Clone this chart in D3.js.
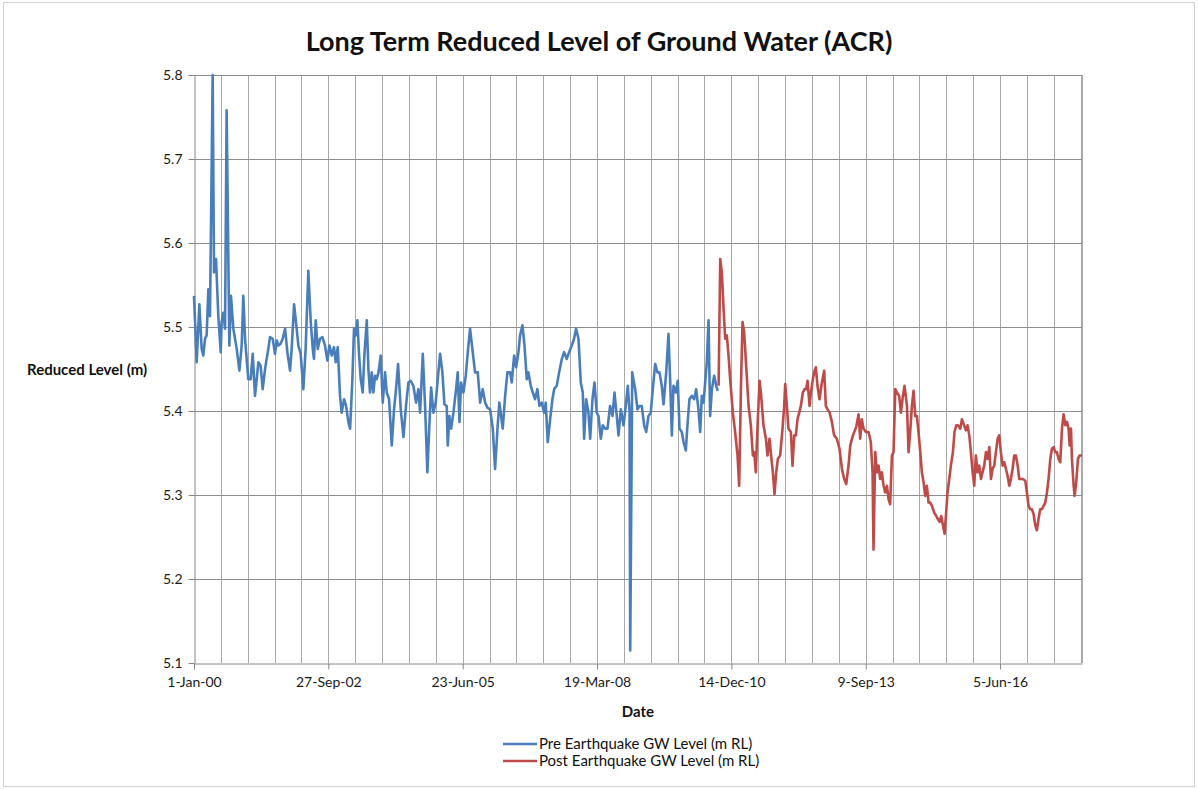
<!DOCTYPE html>
<html>
<head>
<meta charset="utf-8">
<script src="https://cdn.jsdelivr.net/npm/d3@7"></script>
<style>
  html, body { margin: 0; padding: 0; background: #ffffff; }
  svg { display: block; }
  text { font-family: Lato, "Liberation Sans", sans-serif; }
</style>
</head>
<body>
<svg id="chart" width="1198" height="789"></svg>
<script>
// ---------------- DATA ----------------
const chartTitle = "Long Term Reduced Level of Ground Water (ACR)";
const yAxisTitle = "Reduced Level (m)";
const xAxisTitle = "Date";
const seriesNames = ["Pre Earthquake GW Level (m RL)", "Post Earthquake GW Level (m RL)"];
const originDate = "2000-01-01";            // day 0 of the data below
const majorUnitDays = 1000;                 // x tick label interval
const minorUnitDays = 200;                  // x gridline interval
const yTicks = [5.1, 5.2, 5.3, 5.4, 5.5, 5.6, 5.7, 5.8];

// [days since 1-Jan-2000, reduced level (m)]
const preEarthquake = [
[0,5.537],[20,5.458],[40,5.527],[57,5.474],[69,5.466],[82,5.486],[94,5.490],[107,5.545],[119,5.513],[139,5.800],
[149,5.565],[164,5.581],[181,5.513],[199,5.470],[206,5.506],[218,5.517],[231,5.498],[243,5.758],[263,5.478],[275,5.537],
[293,5.498],[318,5.474],[338,5.448],[355,5.478],[367,5.537],[380,5.486],[404,5.438],[422,5.438],[437,5.468],[454,5.418],
[467,5.438],[479,5.458],[496,5.454],[511,5.426],[529,5.450],[553,5.474],[566,5.488],[586,5.486],[603,5.468],[616,5.484],
[628,5.478],[645,5.480],[660,5.486],[678,5.498],[695,5.470],[715,5.448],[727,5.474],[745,5.527],[759,5.506],[777,5.478],
[794,5.468],[814,5.426],[831,5.474],[851,5.567],[869,5.506],[884,5.474],[893,5.462],[906,5.508],[921,5.474],[938,5.486],
[956,5.488],[975,5.478],[993,5.460],[1008,5.478],[1025,5.466],[1042,5.476],[1055,5.458],[1070,5.476],[1087,5.418],[1099,5.398],
[1117,5.414],[1132,5.406],[1149,5.387],[1162,5.379],[1179,5.438],[1191,5.498],[1204,5.490],[1216,5.508],[1229,5.466],[1241,5.438],
[1256,5.422],[1268,5.466],[1286,5.508],[1298,5.450],[1310,5.422],[1323,5.446],[1335,5.422],[1348,5.442],[1360,5.438],[1373,5.446],
[1390,5.466],[1405,5.410],[1422,5.446],[1435,5.422],[1452,5.414],[1472,5.359],[1489,5.402],[1504,5.426],[1519,5.456],[1539,5.402],
[1559,5.369],[1578,5.406],[1596,5.434],[1613,5.436],[1633,5.430],[1653,5.410],[1670,5.426],[1683,5.398],[1703,5.468],[1720,5.406],
[1737,5.327],[1752,5.383],[1765,5.428],[1782,5.398],[1799,5.410],[1819,5.446],[1832,5.468],[1849,5.446],[1864,5.408],[1881,5.406],
[1889,5.359],[1901,5.394],[1914,5.379],[1931,5.398],[1951,5.426],[1963,5.446],[1976,5.387],[1988,5.434],[2005,5.422],[2023,5.442],
[2038,5.470],[2055,5.498],[2072,5.474],[2092,5.446],[2112,5.446],[2130,5.410],[2149,5.426],[2167,5.410],[2184,5.404],[2204,5.402],
[2224,5.379],[2241,5.331],[2259,5.379],[2273,5.410],[2298,5.379],[2316,5.418],[2333,5.446],[2353,5.446],[2365,5.434],[2383,5.466],
[2398,5.452],[2415,5.470],[2427,5.490],[2445,5.502],[2460,5.478],[2477,5.438],[2489,5.446],[2507,5.430],[2522,5.422],[2539,5.414],
[2556,5.426],[2571,5.406],[2589,5.410],[2606,5.398],[2618,5.410],[2633,5.363],[2651,5.390],[2668,5.414],[2681,5.426],[2700,5.430],
[2718,5.446],[2738,5.462],[2755,5.470],[2775,5.462],[2792,5.470],[2812,5.478],[2829,5.486],[2844,5.498],[2862,5.486],[2879,5.434],
[2894,5.422],[2904,5.367],[2919,5.414],[2936,5.398],[2949,5.367],[2966,5.414],[2981,5.434],[2998,5.398],[3011,5.394],[3028,5.367],
[3043,5.383],[3060,5.379],[3078,5.379],[3097,5.406],[3115,5.394],[3130,5.422],[3147,5.394],[3160,5.371],[3177,5.402],[3197,5.383],
[3214,5.406],[3229,5.430],[3242,5.400],[3247,5.115],[3262,5.446],[3284,5.426],[3301,5.402],[3316,5.406],[3333,5.406],[3351,5.383],
[3366,5.375],[3383,5.394],[3400,5.398],[3415,5.426],[3433,5.456],[3450,5.446],[3465,5.446],[3482,5.430],[3495,5.408],[3515,5.446],
[3532,5.492],[3544,5.438],[3557,5.371],[3569,5.430],[3587,5.422],[3601,5.436],[3614,5.379],[3631,5.375],[3644,5.363],[3661,5.353],
[3673,5.383],[3688,5.414],[3706,5.418],[3723,5.414],[3738,5.426],[3755,5.402],[3768,5.375],[3780,5.418],[3793,5.410],[3805,5.434],
[3817,5.458],[3830,5.508],[3842,5.394],[3855,5.426],[3872,5.442],[3887,5.430],[3899,5.424]
];

const postEarthquake = [
[3905,5.430],[3917,5.581],[3929,5.565],[3941,5.525],[3954,5.486],[3966,5.490],[3979,5.466],[3991,5.438],[4011,5.398],[4028,5.375],
[4046,5.347],[4058,5.311],[4071,5.426],[4083,5.506],[4095,5.494],[4110,5.454],[4128,5.406],[4145,5.383],[4160,5.347],[4170,5.351],
[4182,5.327],[4195,5.383],[4210,5.436],[4222,5.418],[4239,5.383],[4257,5.367],[4269,5.347],[4284,5.367],[4296,5.347],[4309,5.327],
[4321,5.301],[4334,5.327],[4346,5.343],[4363,5.347],[4381,5.379],[4393,5.406],[4401,5.432],[4413,5.406],[4425,5.379],[4443,5.375],
[4455,5.335],[4468,5.371],[4480,5.371],[4492,5.390],[4505,5.398],[4517,5.406],[4532,5.422],[4545,5.426],[4557,5.426],[4567,5.436],
[4582,5.406],[4592,5.422],[4607,5.438],[4619,5.448],[4629,5.452],[4641,5.430],[4656,5.414],[4674,5.434],[4691,5.448],[4703,5.406],
[4716,5.402],[4731,5.398],[4748,5.387],[4765,5.371],[4785,5.367],[4805,5.355],[4823,5.331],[4840,5.319],[4855,5.313],[4872,5.335],
[4885,5.359],[4905,5.371],[4929,5.381],[4947,5.396],[4959,5.367],[4971,5.390],[4984,5.379],[5001,5.375],[5021,5.375],[5038,5.363],
[5051,5.327],[5058,5.235],[5071,5.351],[5083,5.327],[5096,5.335],[5108,5.319],[5120,5.327],[5133,5.311],[5145,5.303],[5158,5.311],
[5170,5.295],[5182,5.289],[5195,5.347],[5207,5.351],[5220,5.426],[5232,5.422],[5249,5.418],[5262,5.398],[5277,5.418],[5289,5.430],
[5307,5.406],[5319,5.351],[5331,5.375],[5344,5.406],[5356,5.424],[5369,5.394],[5381,5.394],[5393,5.375],[5406,5.351],[5418,5.327],
[5431,5.315],[5443,5.299],[5455,5.311],[5468,5.291],[5480,5.291],[5493,5.287],[5510,5.279],[5525,5.275],[5535,5.272],[5550,5.268],
[5562,5.275],[5575,5.264],[5587,5.254],[5597,5.275],[5609,5.303],[5622,5.319],[5634,5.335],[5649,5.351],[5661,5.375],[5674,5.383],
[5686,5.383],[5704,5.379],[5716,5.390],[5728,5.385],[5746,5.377],[5758,5.383],[5771,5.371],[5783,5.351],[5796,5.327],[5808,5.311],
[5820,5.347],[5833,5.327],[5845,5.335],[5858,5.319],[5870,5.327],[5882,5.335],[5895,5.351],[5907,5.343],[5920,5.357],[5932,5.319],
[5944,5.331],[5957,5.335],[5969,5.351],[5982,5.367],[5994,5.371],[6006,5.351],[6019,5.335],[6031,5.339],[6044,5.331],[6056,5.323],
[6069,5.311],[6081,5.319],[6093,5.331],[6106,5.347],[6118,5.347],[6131,5.335],[6143,5.319],[6155,5.319],[6170,5.319],[6188,5.317],
[6200,5.303],[6212,5.287],[6225,5.283],[6237,5.283],[6250,5.277],[6262,5.264],[6274,5.258],[6287,5.272],[6299,5.283],[6312,5.283],
[6324,5.287],[6337,5.291],[6349,5.303],[6361,5.319],[6374,5.343],[6386,5.355],[6399,5.357],[6411,5.351],[6423,5.351],[6436,5.343],
[6448,5.339],[6461,5.379],[6473,5.396],[6486,5.383],[6498,5.387],[6510,5.379],[6518,5.359],[6528,5.379],[6535,5.343],[6548,5.311],
[6555,5.299],[6567,5.315],[6580,5.343],[6592,5.347],[6610,5.347]
];

const seriesColors = ["#4a7ebb", "#be4b48"];

// ---------------- LAYOUT ----------------
const W = 1198, H = 789;
const plot = { left: 194, right: 1082, top: 75, bottom: 663 };
const DAY = 86400000;
const t0 = new Date(originDate + "T00:00:00Z");
const toDate = d => new Date(t0.getTime() + d * DAY);

const svg = d3.select("#chart");

// chart-area border
svg.append("rect")
  .attr("x", 3.5).attr("y", 2.5).attr("width", W - 7).attr("height", H - 5)
  .attr("fill", "#fff").attr("stroke", "#d0d0d0").attr("stroke-width", 1);

const lastDay = d3.max(postEarthquake, d => d[0]);
const x = d3.scaleUtc()
  .domain([toDate(0), toDate(lastDay)])
  .range([plot.left, plot.right]);
const y = d3.scaleLinear()
  .domain([d3.min(yTicks), d3.max(yTicks)])
  .range([plot.bottom, plot.top]);

const gridColor = "#8c8c8c";

// vertical gridlines (every 200 days)
const minorDays = d3.range(minorUnitDays, lastDay + 1, minorUnitDays);
svg.append("g").selectAll("line").data(minorDays).join("line")
  .attr("x1", d => Math.round(x(toDate(d))) + 0.5)
  .attr("x2", d => Math.round(x(toDate(d))) + 0.5)
  .attr("y1", plot.top).attr("y2", plot.bottom)
  .attr("stroke", gridColor).attr("stroke-width", 1).attr("stroke-opacity", 0.75);
// right edge line
svg.append("line")
  .attr("x1", Math.round(plot.right) + 0.5).attr("x2", Math.round(plot.right) + 0.5)
  .attr("y1", plot.top).attr("y2", plot.bottom)
  .attr("stroke", gridColor).attr("stroke-opacity", 0.75);

// horizontal gridlines
svg.append("g").selectAll("line").data(yTicks.filter(v => v > d3.min(yTicks))).join("line")
  .attr("x1", plot.left).attr("x2", plot.right)
  .attr("y1", d => Math.round(y(d)) + 0.5).attr("y2", d => Math.round(y(d)) + 0.5)
  .attr("stroke", gridColor).attr("stroke-width", 1);

// axes
const majorDates = d3.range(0, lastDay + 1, majorUnitDays).map(toDate);
const fmt = d3.utcFormat("%-d-%b-%y");
const xAxis = svg.append("g")
  .attr("transform", `translate(0,${Math.round(plot.bottom) + 0.5})`)
  .call(d3.axisBottom(x).tickValues(majorDates).tickFormat(fmt).tickSize(6).tickSizeOuter(0).tickPadding(8));
const yAxis = svg.append("g")
  .attr("transform", `translate(${plot.left + 0.5},0)`)
  .call(d3.axisLeft(y).tickValues(yTicks).tickFormat(d3.format(".1f")).tickSize(6).tickSizeOuter(0).tickPadding(6));

[xAxis, yAxis].forEach(g => {
  g.select(".domain").attr("stroke", "#868686");
  g.selectAll(".tick line").attr("stroke", "#868686");
  g.selectAll(".tick text").attr("fill", "#1a1a1a").attr("font-size", 14)
    .attr("font-family", "Lato, 'Liberation Sans', sans-serif");
});

// series lines
const line = d3.line().x(d => x(toDate(d[0]))).y(d => y(d[1]));
[preEarthquake, postEarthquake].forEach((s, i) => {
  svg.append("path").datum(s)
    .attr("fill", "none").attr("stroke", seriesColors[i])
    .attr("stroke-width", 2.6).attr("stroke-linejoin", "round").attr("d", line);
});

// title
svg.append("text").attr("x", 599).attr("y", 51).attr("text-anchor", "middle")
  .attr("font-size", 27).attr("font-weight", "bold").attr("fill", "#111").text(chartTitle);

// axis titles
svg.append("text").attr("x", 27).attr("y", 375)
  .attr("font-size", 15).attr("font-weight", "bold").attr("fill", "#111").text(yAxisTitle);
svg.append("text").attr("x", 638).attr("y", 717).attr("text-anchor", "middle")
  .attr("font-size", 15).attr("font-weight", "bold").attr("fill", "#111").text(xAxisTitle);

// legend
const legend = svg.append("g");
seriesNames.forEach((name, i) => {
  const ly = 744 + i * 17;
  legend.append("line").attr("x1", 503).attr("x2", 537).attr("y1", ly).attr("y2", ly)
    .attr("stroke", seriesColors[i]).attr("stroke-width", 2.6);
  legend.append("text").attr("x", 539).attr("y", ly + 5)
    .attr("font-size", 15).attr("fill", "#111").text(name);
});
</script>
</body>
</html>
